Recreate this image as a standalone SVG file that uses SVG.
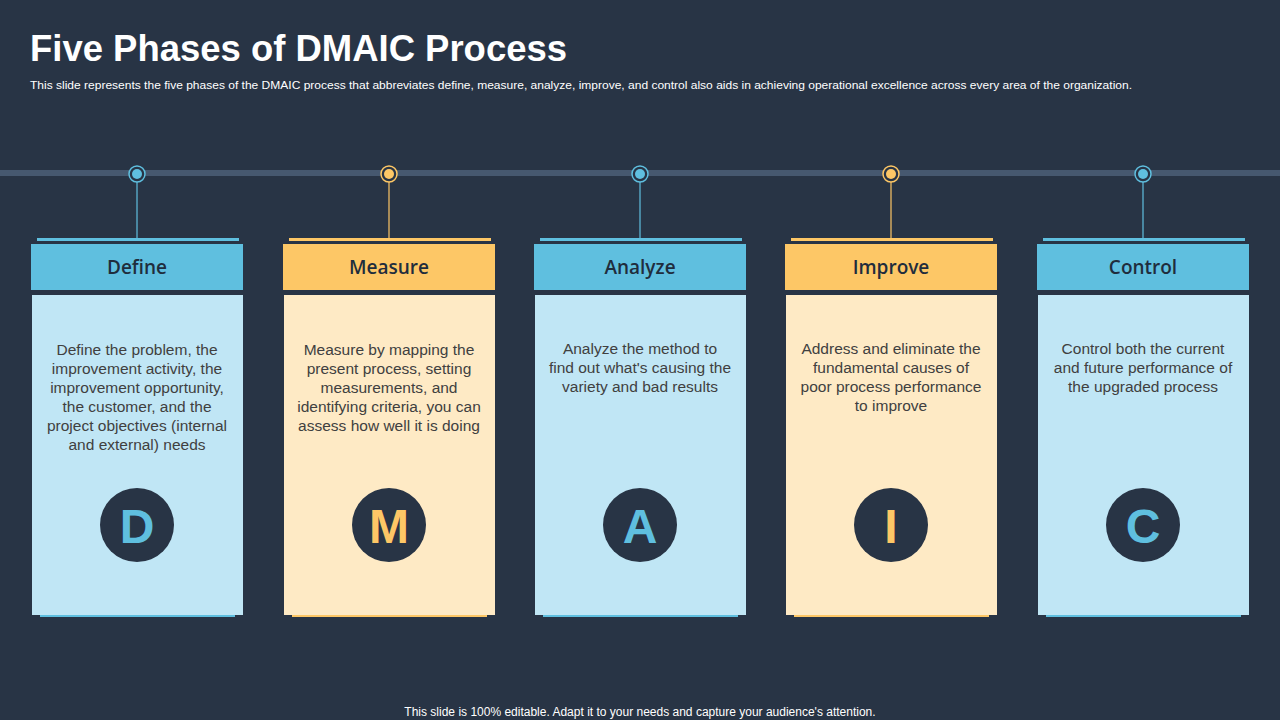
<svg xmlns="http://www.w3.org/2000/svg" width="1280" height="720" viewBox="0 0 1280 720">
<style>
.t{font-family:"Liberation Sans",Arial,sans-serif}
.h{font-family:"Open Sans","Liberation Sans",sans-serif;font-weight:600;font-size:19px;fill:#1f2d3d;text-anchor:middle}
.b{font-family:"Liberation Sans",Arial,sans-serif;font-size:15.5px;fill:#404040;text-anchor:middle}
.L{font-family:"Liberation Sans",Arial,sans-serif;font-weight:bold;font-size:48px;text-anchor:middle}
.bl{fill:#5fbfdf}.yl{fill:#fdc766}
.blb{fill:#c0e6f5}.ylb{fill:#feeac5}
</style>
<rect width="1280" height="720" fill="#283445"/>
<text x="30" y="61" class="t" font-size="36" font-weight="bold" fill="#ffffff" textLength="537" lengthAdjust="spacingAndGlyphs">Five Phases of DMAIC Process</text>
<text x="30" y="89" class="t" font-size="11" fill="#ffffff" textLength="1102" lengthAdjust="spacingAndGlyphs">This slide represents the five phases of the DMAIC  process that abbreviates define, measure, analyze, improve, and control also aids in achieving operational excellence across every area of the organization.</text>
<text x="640" y="716" class="t" font-size="12" fill="#ffffff" text-anchor="middle">This slide is 100% editable. Adapt it to your needs and capture your audience's attention.</text>
<g id="connectors">
<rect x="0" y="170" width="1280" height="6" fill="#46586f"/>
<line x1="137" y1="174" x2="137" y2="240" stroke="#5fbfdf" stroke-width="1.2"/>
<line x1="389" y1="174" x2="389" y2="240" stroke="#fdc766" stroke-width="1.2"/>
<line x1="640" y1="174" x2="640" y2="240" stroke="#5fbfdf" stroke-width="1.2"/>
<line x1="891" y1="174" x2="891" y2="240" stroke="#fdc766" stroke-width="1.2"/>
<line x1="1143" y1="174" x2="1143" y2="240" stroke="#5fbfdf" stroke-width="1.2"/>
<g stroke-width="1.5" fill="#283445">
<circle cx="137" cy="174" r="8" stroke="#5fbfdf"/><circle cx="137" cy="174" r="5" class="bl" stroke="none"/>
<circle cx="389" cy="174" r="8" stroke="#fdc766"/><circle cx="389" cy="174" r="5" class="yl" stroke="none"/>
<circle cx="640" cy="174" r="8" stroke="#5fbfdf"/><circle cx="640" cy="174" r="5" class="bl" stroke="none"/>
<circle cx="891" cy="174" r="8" stroke="#fdc766"/><circle cx="891" cy="174" r="5" class="yl" stroke="none"/>
<circle cx="1143" cy="174" r="8" stroke="#5fbfdf"/><circle cx="1143" cy="174" r="5" class="bl" stroke="none"/>
</g>
</g>
<g id="define" transform="translate(137,0)">
<rect x="-100" y="238" width="202" height="3" class="bl"/>
<rect x="-106" y="244" width="212" height="46" class="bl"/>
<text y="274" class="h">Define</text>
<rect x="-105" y="295" width="211" height="320" class="blb"/>
<rect x="-97" y="615" width="195" height="2" class="bl"/>
<text class="b"><tspan x="0" y="355">Define the problem, the</tspan><tspan x="0" y="374">improvement activity, the</tspan><tspan x="0" y="393">improvement opportunity,</tspan><tspan x="0" y="412">the customer, and the</tspan><tspan x="0" y="431">project objectives (internal</tspan><tspan x="0" y="450">and external) needs</tspan></text>
<circle cy="525" r="37" fill="#283445"/>
<text y="543" class="L bl">D</text>
</g>
<g id="measure" transform="translate(389,0)">
<rect x="-100" y="238" width="202" height="3" class="yl"/>
<rect x="-106" y="244" width="212" height="46" class="yl"/>
<text y="274" class="h">Measure</text>
<rect x="-105" y="295" width="211" height="320" class="ylb"/>
<rect x="-97" y="615" width="195" height="2" class="yl"/>
<text class="b"><tspan x="0" y="355">Measure by mapping the</tspan><tspan x="0" y="374">present process, setting</tspan><tspan x="0" y="393">measurements, and</tspan><tspan x="0" y="412">identifying criteria, you can</tspan><tspan x="0" y="431">assess how well it is doing</tspan></text>
<circle cy="525" r="37" fill="#283445"/>
<text y="543" class="L yl">M</text>
</g>
<g id="analyze" transform="translate(640,0)">
<rect x="-100" y="238" width="202" height="3" class="bl"/>
<rect x="-106" y="244" width="212" height="46" class="bl"/>
<text y="274" class="h">Analyze</text>
<rect x="-105" y="295" width="211" height="320" class="blb"/>
<rect x="-97" y="615" width="195" height="2" class="bl"/>
<text class="b"><tspan x="0" y="354">Analyze the method to</tspan><tspan x="0" y="373">find out what's causing the</tspan><tspan x="0" y="392">variety and bad results</tspan></text>
<circle cy="525" r="37" fill="#283445"/>
<text y="543" class="L bl">A</text>
</g>
<g id="improve" transform="translate(891,0)">
<rect x="-100" y="238" width="202" height="3" class="yl"/>
<rect x="-106" y="244" width="212" height="46" class="yl"/>
<text y="274" class="h">Improve</text>
<rect x="-105" y="295" width="211" height="320" class="ylb"/>
<rect x="-97" y="615" width="195" height="2" class="yl"/>
<text class="b"><tspan x="0" y="354">Address and eliminate the</tspan><tspan x="0" y="373">fundamental causes of</tspan><tspan x="0" y="392">poor process performance</tspan><tspan x="0" y="411">to improve</tspan></text>
<circle cy="525" r="37" fill="#283445"/>
<text y="543" class="L yl">I</text>
</g>
<g id="control" transform="translate(1143,0)">
<rect x="-100" y="238" width="202" height="3" class="bl"/>
<rect x="-106" y="244" width="212" height="46" class="bl"/>
<text y="274" class="h">Control</text>
<rect x="-105" y="295" width="211" height="320" class="blb"/>
<rect x="-97" y="615" width="195" height="2" class="bl"/>
<text class="b"><tspan x="0" y="354">Control both the current</tspan><tspan x="0" y="373">and future performance of</tspan><tspan x="0" y="392">the upgraded process</tspan></text>
<circle cy="525" r="37" fill="#283445"/>
<text y="543" class="L bl">C</text>
</g>
</svg>
